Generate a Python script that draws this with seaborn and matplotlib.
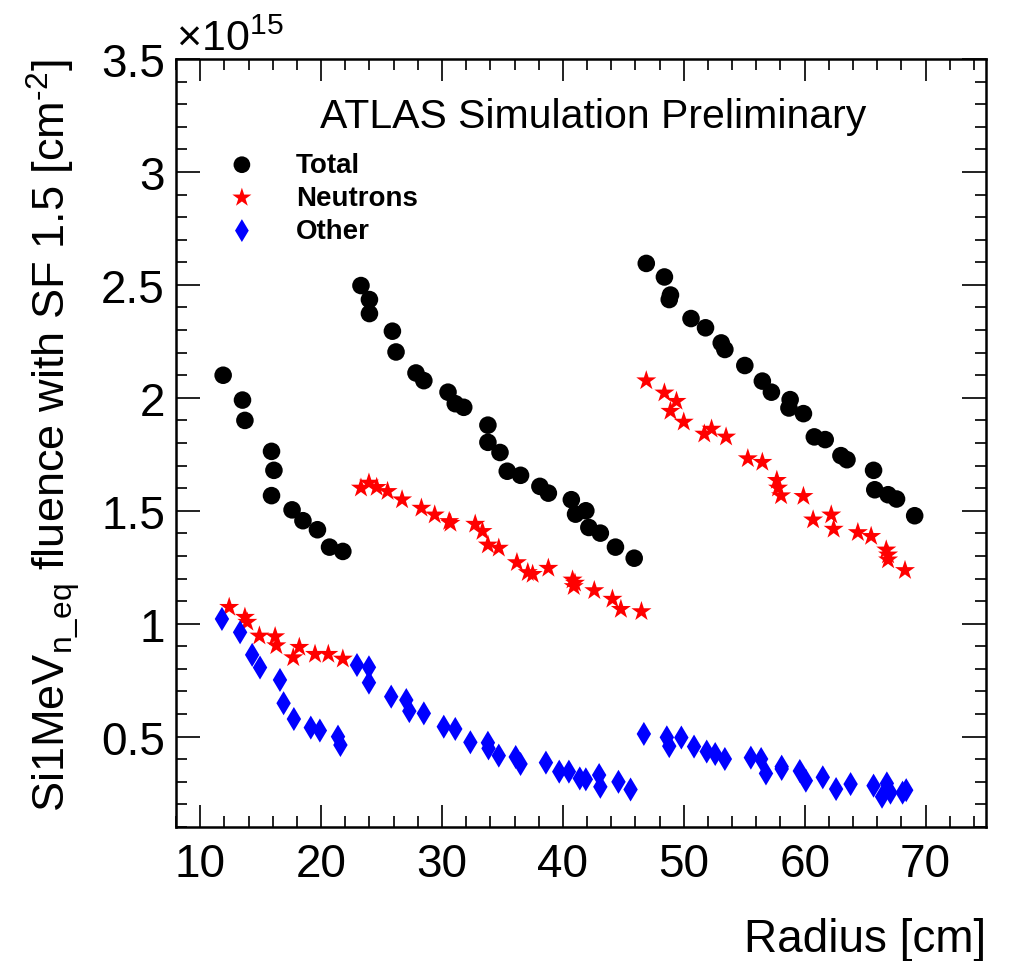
import numpy as np
import pandas as pd
import matplotlib
matplotlib.use("Agg")
import matplotlib.pyplot as plt
from matplotlib.ticker import MultipleLocator
import seaborn as sns

# ---------------- data (fluence in units of 1e15 cm^-2) ----------------
total_r = [11.9, 13.5, 13.7, 15.9, 16.1, 15.9, 17.6, 18.5, 19.7, 20.7, 21.8,
           23.3, 24.0, 24.0, 25.9, 26.2, 27.85, 28.5, 30.5, 31.1, 31.8, 33.8, 33.8,
           34.8, 35.4, 36.5, 38.1, 38.8, 40.7, 41.05, 41.9, 42.15, 43.1, 44.35, 45.9,
           46.9, 48.4, 48.9, 48.8, 50.6, 51.8, 53.1, 53.4, 55.05, 56.5, 57.25, 58.8,
           58.7, 59.9, 60.8, 61.7, 63.0, 63.5, 65.7, 65.8, 66.9, 67.6, 69.1]
total_f = [2.10, 1.99, 1.90, 1.763, 1.679, 1.567, 1.504, 1.456, 1.416, 1.339, 1.320,
           2.497, 2.435, 2.373, 2.295, 2.203, 2.110, 2.076, 2.025, 1.974, 1.958, 1.879, 1.803,
           1.758, 1.675, 1.657, 1.608, 1.578, 1.549, 1.485, 1.500, 1.426, 1.401, 1.339, 1.290,
           2.595, 2.535, 2.455, 2.435, 2.351, 2.310, 2.243, 2.214, 2.143, 2.074, 2.025, 1.992,
           1.955, 1.930, 1.827, 1.815, 1.744, 1.726, 1.679, 1.593, 1.571, 1.552, 1.478]

neutron_r = [12.4, 13.7, 13.9, 14.9, 16.2, 16.3, 17.7, 18.2, 19.5, 20.6, 21.8,
             23.3, 23.96, 24.6, 25.5, 26.7, 28.3, 29.4, 30.6, 30.7, 32.75, 33.35, 33.8,
             34.7, 36.2, 37.1, 37.5, 38.8, 40.8, 40.9, 41.0, 42.6, 44.1, 44.8, 46.5,
             46.9, 48.4, 49.4, 48.9, 50.0, 51.7, 52.3, 53.5, 55.3, 56.5, 57.7, 57.8,
             58.05, 59.9, 60.7, 62.2, 62.4, 64.4, 65.5, 66.75, 66.9, 66.9, 68.3]
neutron_f = [1.073, 1.029, 1.007, 0.946, 0.943, 0.903, 0.850, 0.896, 0.865, 0.865, 0.844,
             1.601, 1.623, 1.604, 1.586, 1.549, 1.512, 1.482, 1.453, 1.445, 1.441, 1.409, 1.349,
             1.335, 1.271, 1.227, 1.219, 1.246, 1.194, 1.165, 1.180, 1.147, 1.109, 1.064, 1.054,
             2.076, 2.022, 1.985, 1.941, 1.893, 1.840, 1.862, 1.827, 1.731, 1.715, 1.635, 1.601,
             1.567, 1.564, 1.460, 1.482, 1.419, 1.404, 1.387, 1.327, 1.305, 1.283, 1.236]

other_r = [11.8, 13.3, 14.3, 14.95, 16.6, 16.9, 17.75, 19.15, 19.9, 21.4, 21.6,
           22.97, 23.96, 23.96, 25.8, 27.05, 27.3, 28.5, 30.15, 31.1, 32.35, 33.8, 33.85,
           34.7, 36.1, 36.5, 38.6, 39.7, 40.5, 41.4, 41.9, 43.0, 43.1, 44.6, 45.6,
           46.7, 48.6, 48.8, 49.8, 50.85, 51.9, 52.6, 53.4, 55.55, 56.4, 56.8, 58.1,
           58.1, 59.6, 60.1, 61.5, 62.6, 63.8, 65.7, 66.4, 66.8, 67.1, 68.1, 68.4]
other_f = [1.021, 0.962, 0.862, 0.806, 0.751, 0.648, 0.578, 0.540, 0.527, 0.500, 0.463,
           0.817, 0.807, 0.739, 0.677, 0.662, 0.613, 0.603, 0.544, 0.534, 0.475, 0.473, 0.448,
           0.416, 0.410, 0.379, 0.385, 0.345, 0.345, 0.315, 0.311, 0.330, 0.278, 0.300, 0.266,
           0.512, 0.497, 0.458, 0.496, 0.456, 0.434, 0.423, 0.401, 0.407, 0.401, 0.337, 0.367,
           0.357, 0.348, 0.305, 0.320, 0.268, 0.290, 0.283, 0.234, 0.293, 0.252, 0.252, 0.263]

series_labels = ["Total", "Neutrons", "Other"]
x_ticks = [10, 20, 30, 40, 50, 60, 70]
y_ticks = [0.5, 1, 1.5, 2, 2.5, 3, 3.5]

# ---------------- style ----------------
sns.set_style("ticks")
plt.rcParams["font.family"] = ["Liberation Sans", "DejaVu Sans"]
plt.rcParams["mathtext.fontset"] = "custom"
plt.rcParams["mathtext.rm"] = "Liberation Sans"
plt.rcParams["mathtext.it"] = "Liberation Sans:italic"
plt.rcParams["mathtext.bf"] = "Liberation Sans:bold"
for k in ["text.color", "axes.labelcolor", "xtick.color", "ytick.color"]:
    plt.rcParams[k] = "black"

W, H = 1012, 962
fig = plt.figure(figsize=(W / 100, H / 100), dpi=100)
L, R, T, B = 176, 986, 60, 828
ax = fig.add_axes([L / W, (H - B) / H, (R - L) / W, (B - T) / H])

sns.scatterplot(x=total_r, y=total_f, ax=ax, marker="o", s=160, color="black",
                edgecolor="none", label=series_labels[0], zorder=3)
sns.scatterplot(x=neutron_r, y=neutron_f, ax=ax, marker="*", s=230, color="red",
                edgecolor="none", label=series_labels[1], zorder=3)
sns.scatterplot(x=other_r, y=other_f, ax=ax, marker="d", s=150, color="blue",
                edgecolor="none", label=series_labels[2], zorder=3)

ax.set_xlim(8, 75)
ax.set_ylim(0.1, 3.5)
ax.set_xticks(x_ticks)
ax.set_xticklabels([str(v) for v in x_ticks])
ax.set_yticks(y_ticks)
ax.set_yticklabels([("%g" % v) for v in y_ticks])
ax.xaxis.set_minor_locator(MultipleLocator(2))
ax.yaxis.set_minor_locator(MultipleLocator(0.1))

for sp in ax.spines.values():
    sp.set_visible(True)
    sp.set_linewidth(1.8)
    sp.set_color("black")

ax.tick_params(which="both", direction="in", top=True, right=True,
               width=1.4, color="#222222")
ax.tick_params(axis="x", which="major", length=16, labelsize=33, pad=11)
ax.tick_params(axis="x", which="minor", length=8)
ax.tick_params(axis="y", which="major", length=17, labelsize=33, pad=8)
ax.tick_params(axis="y", which="minor", length=8)

ax.set_xlabel("Radius [cm]", fontsize=33, loc="right")
ax.xaxis.set_label_coords(1.0, (B - 940) / (B - T))
ax.xaxis.label.set_va("center")

ax.set_ylabel("Si1MeV$_{\\mathrm{n\\_eq}}$ fluence with SF 1.5 [cm$^{\\mathrm{\u2010}2}$]",
              fontsize=32.5, loc="top")
ax.yaxis.set_label_coords((82 - L) / (R - L), 1.0)

ax.text(0.0, 1.0, r"$\times10^{15}$", transform=ax.transAxes, fontsize=31,
        ha="left", va="bottom")

ax.text((593 - L) / (R - L), (B - 128) / (B - T), "ATLAS Simulation Preliminary",
        transform=ax.transAxes, fontsize=29.5, ha="center", va="baseline")

leg = ax.legend(frameon=False, loc="upper left",
                bbox_to_anchor=((228 - L) / (R - L), (B - 153) / (B - T)),
                borderaxespad=0, borderpad=0, handlelength=1.0, handletextpad=1.45,
                labelspacing=0.25, markerscale=0.95,
                prop={"weight": "bold", "size": 20})

fig.savefig("out.png", dpi=100)
